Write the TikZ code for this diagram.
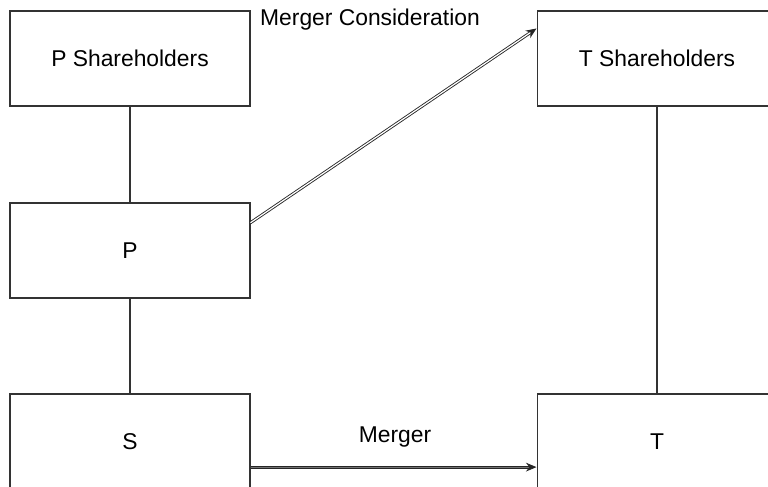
\documentclass[tikz,border=0pt]{standalone}
\usepackage{fontspec}
\setmainfont{Liberation Sans}
\usepackage{tikz}
\usetikzlibrary{arrows.meta, positioning, calc}

\begin{document}
\begin{tikzpicture}[x=0.02cm, y=-0.02cm, >=Stealth,
    party/.style={rectangle, draw=black!80, line width=0.6pt, fill=white,
      minimum width=4.8cm, minimum height=1.9cm, inner sep=0pt,
      font=\fontsize{13}{15}\selectfont},
    link/.style={draw=black!80, line width=0.6pt},
    flow/.style={->, draw=black!85, double=white, double distance=0.7pt,
      line width=0.5pt, >={Stealth[length=6pt, width=5pt]}}]

% Frame of the page
\useasboundingbox (0,0) rectangle (768,487);
\clip (0,0) rectangle (768,487);

% Define nodes
\node[party] (PSH) at (130,58.5) {P Shareholders};
\node[party] (TSH) at (657,58.5) {T Shareholders};
\node[party] (P) at (130,250.5) {P};
\node[party] (S) at (130,441.5) {S};
\node[party] (T) at (657,441.5) {T};

% Ownership lines
\draw[link] (PSH) -- (P);
\draw[link] (P) -- (S);
\draw[link] (TSH) -- (T);

% Merger consideration paid to T shareholders
\draw[flow] (P.13) -- (TSH.166);
\node[font=\fontsize{13}{15}\selectfont] (mc) at (370,20) {Merger Consideration};

% Merger of S into T
\draw[flow, double=black!55] (S.-12.5) -- (T.192.5);
\node[font=\fontsize{13}{15}\selectfont] (mg) at (395,437) {Merger};

\end{tikzpicture}
\end{document}
